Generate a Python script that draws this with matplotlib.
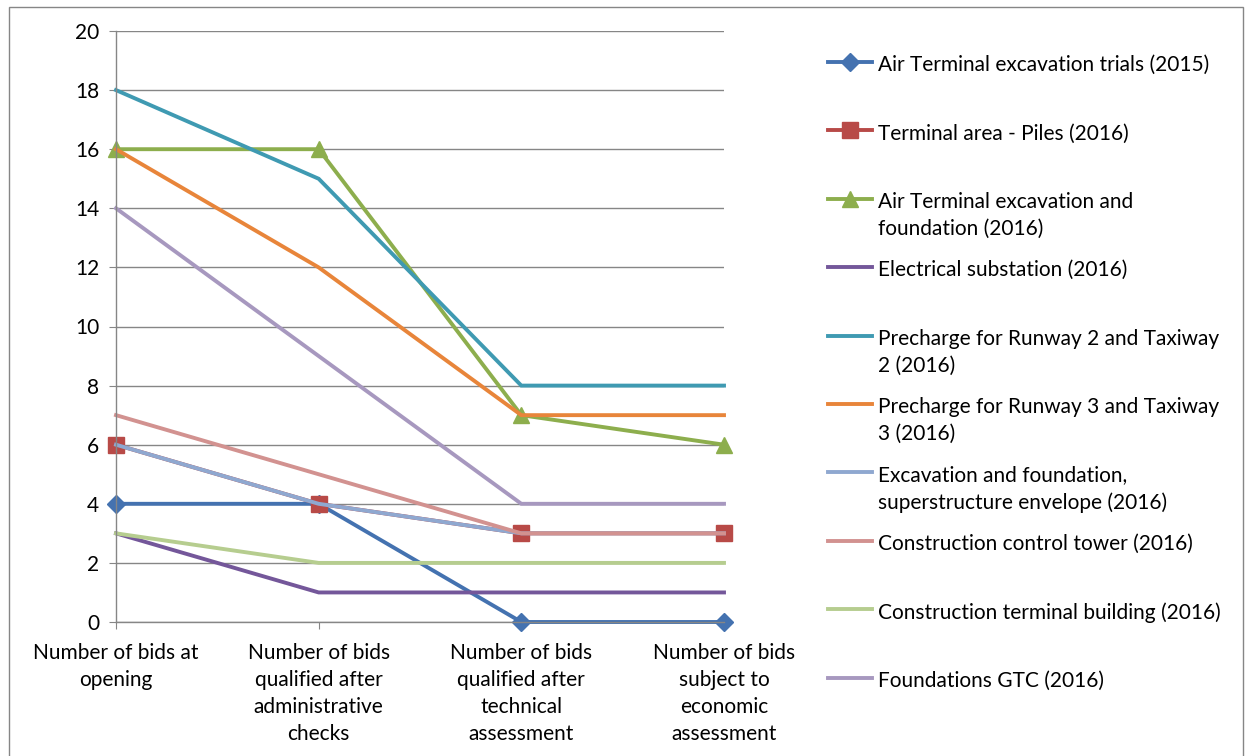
import matplotlib
matplotlib.use('Agg')
import matplotlib.pyplot as plt
from matplotlib.lines import Line2D
from matplotlib.patches import Rectangle

plt.rcParams['font.family'] = ['Lato', 'DejaVu Sans']

# categorie sull'asse x
stages = ['Number of bids at\nopening',
          'Number of bids\nqualified after\nadministrative\nchecks',
          'Number of bids\nqualified after\ntechnical\nassessment',
          'Number of bids\nsubject to\neconomic\nassessment']

# serie (nome, valori)
names = ['Air Terminal excavation trials (2015)',
         'Terminal area - Piles (2016)',
         'Air Terminal excavation and\nfoundation (2016)',
         'Electrical substation (2016)',
         'Precharge for Runway 2 and Taxiway\n2 (2016)',
         'Precharge for Runway 3 and Taxiway\n3 (2016)',
         'Excavation and foundation,\nsuperstructure envelope (2016)',
         'Construction control tower (2016)',
         'Construction terminal building (2016)',
         'Foundations GTC (2016)']
air_trials = [4, 4, 0, 0]
piles = [6, 4, 3, 3]
air_excav = [16, 16, 7, 6]
substation = [3, 1, 1, 1]
runway2 = [18, 15, 8, 8]
runway3 = [16, 12, 7, 7]
superstructure = [6, 4, 3, 3]
control_tower = [7, 5, 3, 3]
terminal_bld = [3, 2, 2, 2]
gtc = [14, 9, 4, 4]
series = [air_trials, piles, air_excav, substation, runway2, runway3,
          superstructure, control_tower, terminal_bld, gtc]

colors = ['#4472B0', '#B84A47', '#8DAE4D', '#74579A', '#3F9AB2', '#E8853A',
          '#8FA8D0', '#D29290', '#B6CD8F', '#A798BF']
markers = ['D', 's', '^', None, None, None, None, None, None, None]
msizes = [9, 11, 12, 0, 0, 0, 0, 0, 0, 0]

FS = 15
LW = 2.8
LS = 1.45

fig = plt.figure(figsize=(12.47, 7.56), dpi=100)
ax = fig.add_axes([116 / 1247, 1 - 622 / 756, (724 - 116) / 1247, (622 - 31) / 756])

x = list(range(len(stages)))
for vals, c, m, ms in zip(series, colors, markers, msizes):
    ax.plot(x, vals, color=c, lw=LW, marker=m, markersize=ms,
            solid_joinstyle='miter', clip_on=False)

ax.set_xlim(0, 3)
ax.set_ylim(0, 20)
ax.set_yticks(range(0, 21, 2))
ax.set_xticks(x)
ax.set_xticklabels(stages, fontsize=FS, linespacing=LS)
ax.tick_params(axis='y', labelsize=FS, length=5, color='#868686', pad=7)
ax.tick_params(axis='x', length=5, color='#868686', pad=10)
ax.grid(axis='y', color='#868686', lw=1)
ax.set_axisbelow(True)
for s in ['top', 'right']:
    ax.spines[s].set_visible(False)
for s in ['left', 'bottom']:
    ax.spines[s].set_color('#868686')
    ax.spines[s].set_linewidth(1)

# legenda disegnata a mano (stile Excel)
W, H = 1247, 756
for i, (name, c, m, ms) in enumerate(zip(names, colors, markers, msizes)):
    yc = 62 + 68.4 * i
    fy = 1 - yc / H
    fig.add_artist(Line2D([828 / W, 872 / W], [fy, fy], color=c, lw=LW,
                          transform=fig.transFigure))
    if m:
        fig.add_artist(Line2D([850 / W], [fy], color=c, marker=m, markersize=ms,
                              transform=fig.transFigure))
    fig.text(878 / W, 1 - (yc - 7) / H, name, fontsize=FS, va='top',
             ha='left', linespacing=LS)

fig.add_artist(Rectangle((9 / W, -0.01), 1234 / W, 1 - 7 / H + 0.01, fill=False,
                         edgecolor='#868686', lw=1, transform=fig.transFigure))

fig.savefig('out.png', dpi=100)
